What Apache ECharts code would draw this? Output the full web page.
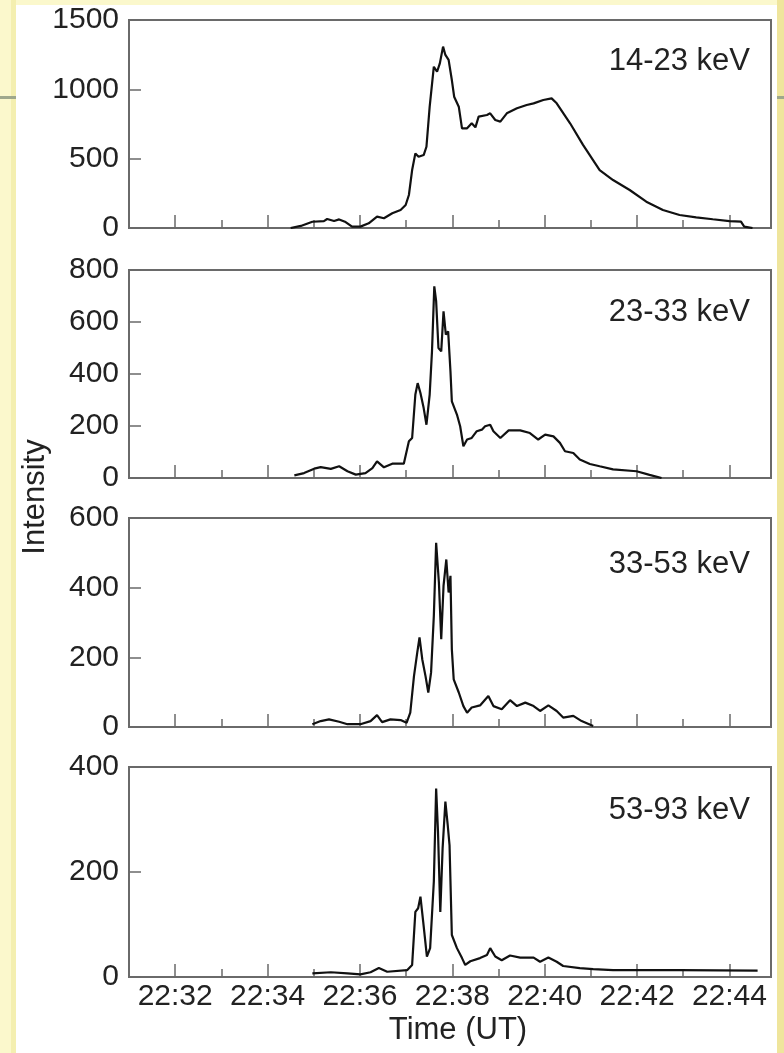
<!DOCTYPE html>
<html>
<head>
<meta charset="utf-8">
<script src="https://cdn.jsdelivr.net/npm/echarts@6/dist/echarts.min.js"></script>
<style>
  html, body { margin: 0; padding: 0; background: #fbf8cc; }
  #main { width: 784px; height: 1053px; }
</style>
</head>
<body>
<div id="main"></div>
<script>
// time in minutes after 22:00 UT, intensity
var t1 = [34.50,34.72,34.97,35.22,35.29,35.44,35.55,35.69,35.83,36.01,36.19,36.37,36.52,36.70,36.88,36.99,37.06,37.13,37.20,37.27,37.38,37.44,37.51,37.60,37.67,37.73,37.80,37.85,37.92,37.99,38.04,38.14,38.21,38.32,38.42,38.50,38.57,38.75,38.82,38.93,39.04,39.18,39.40,39.61,39.76,39.97,40.15,40.26,40.55,40.83,41.19,41.48,41.84,42.20,42.56,42.92,43.28,43.64,44.00,44.25,44.32,44.50]
var v1 = [0,15,45,50,65,50,62,43,10,10,34,82,70,106,130,166,238,418,538,514,526,586,875,1163,1127,1187,1308,1248,1212,1067,947,875,719,719,755,726,803,815,827,779,767,827,863,887,899,923,935,899,755,599,418,346,274,190,130,94,77,63,50,46,10,0]

var t2 = [34.58,34.79,35.01,35.15,35.37,35.55,35.73,35.91,36.12,36.27,36.37,36.52,36.70,36.95,37.06,37.13,37.20,37.25,37.31,37.38,37.44,37.51,37.56,37.61,37.65,37.70,37.76,37.81,37.86,37.91,37.96,37.99,38.10,38.17,38.24,38.32,38.42,38.53,38.64,38.71,38.82,38.89,39.04,39.22,39.47,39.68,39.86,40.01,40.19,40.33,40.44,40.62,40.76,40.98,41.19,41.48,41.99,42.27,42.53]
var v2 = [10,19,36,42,35,45,26,13,19,38,64,41,55,55,141,154,321,365,327,269,205,321,487,737,680,500,487,641,551,564,410,295,244,199,122,148,154,180,186,199,205,180,154,183,183,173,148,167,160,135,103,96,71,54,45,33,26,12,0]

var t3 = [34.97,35.15,35.33,35.55,35.73,36.01,36.23,36.37,36.48,36.66,36.88,37.01,37.09,37.17,37.24,37.29,37.35,37.42,37.48,37.54,37.60,37.65,37.71,37.76,37.81,37.87,37.92,37.96,37.99,38.03,38.14,38.24,38.32,38.42,38.60,38.78,38.89,39.07,39.25,39.40,39.58,39.76,39.90,40.08,40.26,40.40,40.62,40.80,41.05]
var v3 = [8,17,22,15,8,8,17,34,14,22,20,12,41,146,213,257,194,146,99,156,319,529,414,252,405,481,386,434,223,137,99,60,41,56,62,89,60,51,77,60,70,60,46,62,46,27,32,17,3]

var t4 = [34.97,35.37,35.73,36.01,36.23,36.41,36.59,37.02,37.13,37.20,37.26,37.31,37.37,37.45,37.52,37.60,37.65,37.69,37.74,37.79,37.85,37.90,37.94,37.99,38.10,38.21,38.28,38.39,38.60,38.75,38.82,38.93,39.07,39.25,39.47,39.76,39.90,40.08,40.26,40.40,40.76,41.05,41.48,42.92,44.61]
var v4 = [7,9,7,5,9,17,10,13,23,124,131,153,105,39,55,182,359,277,124,245,334,290,251,80,55,36,23,30,36,42,55,39,32,41,37,37,29,37,29,21,17,15,13,13,12]

var bands = ['14-23 keV', '23-33 keV', '33-53 keV', '53-93 keV']
var yMax = [1500, 800, 600, 400]
var yStep = [500, 200, 200, 200]
var majorMinutes = [32, 34, 36, 38, 40, 42, 44]
var minorMinutes = [33, 35, 37, 39, 41, 43]

var times = [t1, t2, t3, t4]
var values = [v1, v2, v3, v4]

function pairs(t, v) {
    var out = []
    for (var i = 0; i < t.length; i++) out.push([t[i], v[i]])
    return out
}

var FONT = '"Liberation Sans", Arial, Helvetica, sans-serif'
var AXIS_GRAY = '#6a6a6a'
var gridTops = [20, 270, 518, 767]
var gridHeights = [208, 208, 209, 210]
var bandY = [61, 312, 564, 810]

var grids = [], xAxes = [], yAxes = [], series = [], texts = []
for (var k = 0; k < 4; k++) {
    grids.push({
        left: 129, width: 642, top: gridTops[k], height: gridHeights[k],
        show: true, borderColor: AXIS_GRAY, borderWidth: 2, backgroundColor: '#fff'
    })
    var last = (k === 3)
    // main time axis: long ticks on even minutes, labels only on bottom panel
    xAxes.push({
        type: 'value', gridIndex: k, min: 31, max: 44.9, position: 'bottom',
        splitLine: { show: false },
        axisLine: { show: true, onZero: false, lineStyle: { color: AXIS_GRAY, width: 2 } },
        axisTick: { show: true, inside: true, length: 13, customValues: majorMinutes,
                    lineStyle: { color: AXIS_GRAY, width: 1.5 } },
        axisLabel: { show: last, customValues: majorMinutes, margin: 5,
                     fontSize: 30, fontFamily: FONT, color: '#222',
                     formatter: function (v) { return '22:' + v } },
        name: last ? 'Time (UT)' : '', nameLocation: 'middle', nameGap: 38,
        nameTextStyle: { fontSize: 31, fontFamily: FONT, color: '#222', padding: [0, 0, 0, 16] }
    })
    // short ticks on odd minutes
    xAxes.push({
        type: 'value', gridIndex: k, min: 31, max: 44.9, position: 'bottom',
        splitLine: { show: false },
        axisLine: { show: false },
        axisTick: { show: true, inside: true, length: 8, customValues: minorMinutes,
                    lineStyle: { color: AXIS_GRAY, width: 1.5 } },
        axisLabel: { show: false }
    })
    yAxes.push({
        type: 'value', gridIndex: k, min: 0, max: yMax[k], interval: yStep[k],
        splitLine: { show: false },
        axisLine: { show: true, lineStyle: { color: AXIS_GRAY, width: 2 } },
        axisTick: { show: true, inside: true, length: 12, lineStyle: { color: AXIS_GRAY, width: 1.5 } },
        axisLabel: { margin: 10, fontSize: 30, fontFamily: FONT, color: '#222',
                     formatter: function (v) { return String(v) } }
    })
    series.push({
        type: 'line', xAxisIndex: 2 * k, yAxisIndex: k,
        data: pairs(times[k], values[k]),
        showSymbol: false, symbol: 'none',
        lineStyle: { color: '#111', width: 2.2 },
        animation: false
    })
    texts.push({
        type: 'text', x: 750, y: bandY[k],
        style: { text: bands[k], fill: '#222', font: '31px ' + FONT,
                 align: 'right', verticalAlign: 'middle' }
    })
}

var myChart = echarts.init(document.getElementById('main'))
myChart.setOption({
    backgroundColor: '#fbf8cc',
    animation: false,
    graphic: [
        // slide backdrop
        { type: 'rect', z: -10, shape: { x: 777, y: 0, width: 7, height: 1053 }, style: { fill: '#efe59c' } },
        { type: 'rect', z: -10, shape: { x: 11, y: 0, width: 5, height: 1053 }, style: { fill: '#f4efb0' } },
        { type: 'rect', z: -9, shape: { x: 16, y: 5, width: 761, height: 1048 }, style: { fill: '#ffffff' } },
        { type: 'rect', z: -8, shape: { x: 0, y: 96, width: 16, height: 3 }, style: { fill: '#9fa88c' } },
        { type: 'rect', z: -8, shape: { x: 777, y: 96, width: 7, height: 3 }, style: { fill: '#9fa88c' } },
        {
            type: 'text', x: 35, y: 497, rotation: Math.PI / 2,
            style: { text: 'Intensity', fill: '#222', font: '31px ' + FONT,
                     align: 'center', verticalAlign: 'middle' }
        }
    ].concat(texts),
    grid: grids,
    xAxis: xAxes,
    yAxis: yAxes,
    series: series
})
</script>
</body>
</html>
